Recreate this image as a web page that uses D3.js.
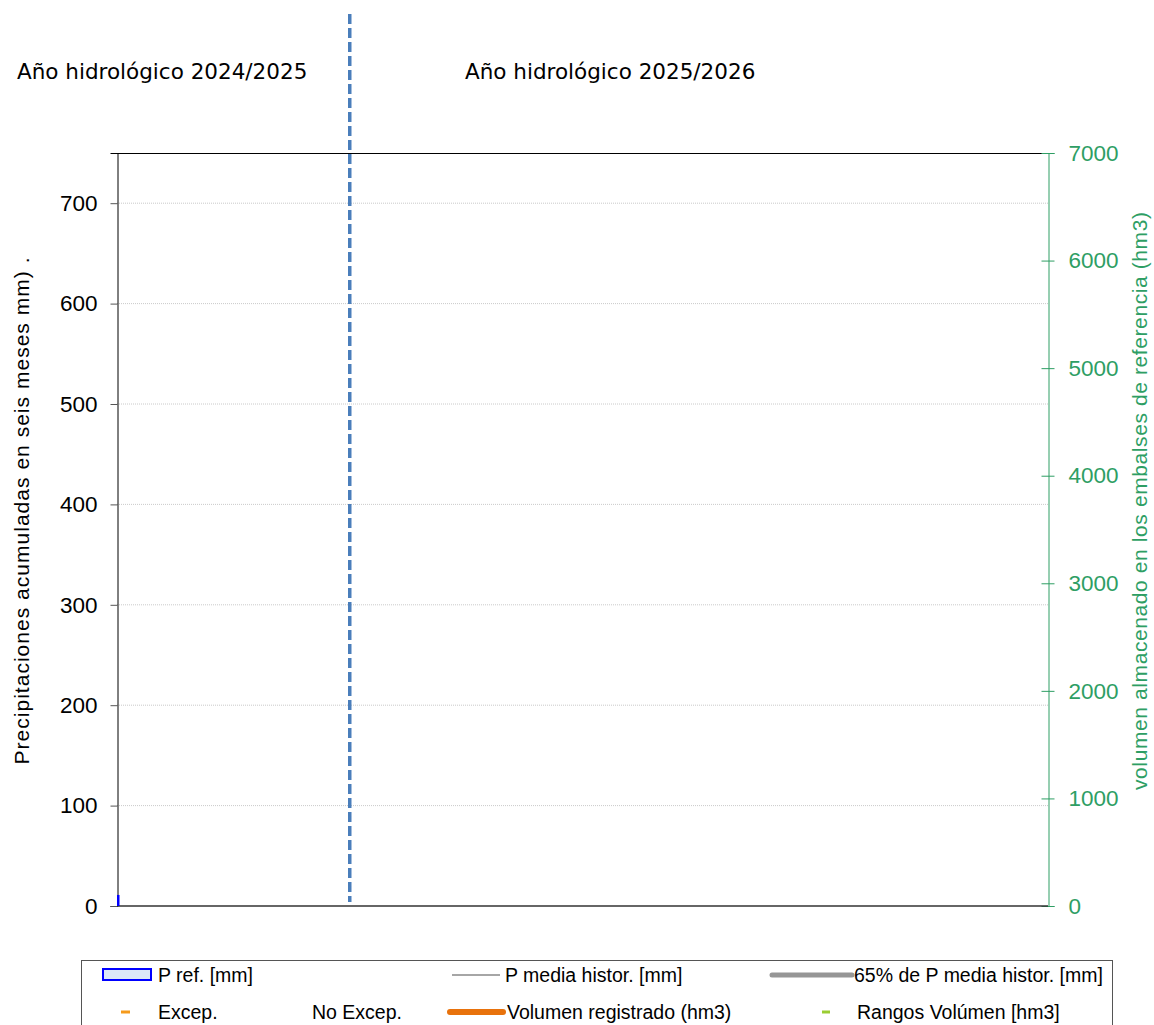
<!DOCTYPE html>
<html>
<head>
<meta charset="utf-8">
<script src="https://cdn.jsdelivr.net/npm/d3@7"></script>
<style>
  body { margin: 0; background: #fff; }
  svg { display: block; }
</style>
</head>
<body>
<script>
'use strict';

// data
const months = d3.range(0, 48);          // month index, 0 = Oct 2024
const pRefMonths = [0];
const pRefValues = [11];                 // mm
const yearStart = 12;                    // Oct 2025, start of 2025/2026
const yearLabels = ["Año hidrológico 2024/2025", "Año hidrológico 2025/2026"];
const leftTicks = [0, 100, 200, 300, 400, 500, 600, 700];
const rightTicks = [0, 1000, 2000, 3000, 4000, 5000, 6000, 7000];

const width = 1154, height = 1025;
const margin = { left: 117, right: 1048, top: 153, bottom: 906 };
const green = "#2e9e64";
const font = "Liberation Sans, Arial, sans-serif";

const svg = d3.select("body").append("svg")
    .attr("width", width)
    .attr("height", height);

const x = d3.scaleLinear().domain([0, months.length]).range([margin.left, margin.right]);
const y = d3.scaleLinear().domain([0, 750]).range([margin.bottom, margin.top]);
const y2 = d3.scaleLinear().domain([0, 7000]).range([margin.bottom, margin.top]);

// grid lines
svg.append("g").selectAll("line")
    .data(leftTicks.filter(d => d > 0))
    .enter().append("line")
    .attr("x1", margin.left).attr("x2", margin.right)
    .attr("y1", d => y(d)).attr("y2", d => y(d))
    .attr("stroke", "#bdbdbd")
    .attr("stroke-width", 0.8)
    .attr("stroke-dasharray", "1,1");

// frame top
svg.append("line")
    .attr("x1", margin.left).attr("x2", margin.right)
    .attr("y1", margin.top + 0.5).attr("y2", margin.top + 0.5)
    .attr("stroke", "#000").attr("stroke-width", 1);

// left axis
const yAxis = d3.axisLeft(y).tickValues(leftTicks).tickSize(7).tickPadding(13);
const gLeft = svg.append("g")
    .attr("transform", "translate(" + (margin.left + 0.5) + ",0)")
    .call(yAxis);
gLeft.select(".domain").attr("stroke", "#000");
gLeft.selectAll(".tick line").attr("stroke", "#555");
gLeft.selectAll("text")
    .attr("font-family", font)
    .attr("font-size", "22.5px")
    .attr("fill", "#000");

// right axis
const yAxis2 = d3.axisRight(y2).tickValues(rightTicks).tickFormat(d3.format("d"))
    .tickSize(6).tickPadding(14);
const gRight = svg.append("g")
    .attr("transform", "translate(" + (margin.right + 0.5) + ",0)")
    .call(yAxis2);
gRight.select(".domain").attr("stroke", green);
gRight.selectAll(".tick line").attr("stroke", green).attr("x1", -7);
gRight.selectAll("text")
    .attr("font-family", font)
    .attr("font-size", "22.5px")
    .attr("fill", green);

// x axis line at 0
svg.append("line")
    .attr("x1", margin.left).attr("x2", margin.right)
    .attr("y1", y(0)).attr("y2", y(0))
    .attr("stroke", "#333").attr("stroke-width", 1.5);

// P ref bars
svg.append("g").selectAll("rect")
    .data(pRefMonths.map((m, i) => ({ m: m, v: pRefValues[i] })))
    .enter().append("rect")
    .attr("x", d => x(d.m))
    .attr("y", d => y(d.v))
    .attr("width", 2.5)
    .attr("height", d => y(0) - y(d.v))
    .attr("fill", "#0000ff");

// hydrological year separator
svg.append("line")
    .attr("x1", x(yearStart)).attr("x2", x(yearStart))
    .attr("y1", 14).attr("y2", 902)
    .attr("stroke", "#4a7ebb")
    .attr("stroke-width", 3.5)
    .attr("stroke-dasharray", "10,4");

// year titles
svg.selectAll(".ytitle")
    .data(yearLabels)
    .enter().append("text")
    .attr("class", "ytitle")
    .attr("x", (d, i) => i === 0 ? 17 : 465)
    .attr("y", 79)
    .attr("font-family", "DejaVu Sans, Verdana, sans-serif")
    .attr("font-size", "21.5px")
    .attr("fill", "#000")
    .text(d => d);

// axis titles
svg.append("text")
    .attr("transform", "translate(29,511) rotate(-90)")
    .attr("text-anchor", "middle")
    .attr("font-family", font)
    .attr("font-size", "21px")
    .attr("textLength", 507)
    .attr("lengthAdjust", "spacing")
    .attr("fill", "#000")
    .text("Precipitaciones acumuladas en seis meses mm)  .");

svg.append("text")
    .attr("transform", "translate(1147,501) rotate(-90)")
    .attr("text-anchor", "middle")
    .attr("font-family", font)
    .attr("font-size", "21px")
    .attr("textLength", 578)
    .attr("lengthAdjust", "spacing")
    .attr("fill", green)
    .text("volumen almacenado en los embalses de referencia (hm3)");

// legend
const legend = svg.append("g");
legend.append("rect")
    .attr("x", 81.5).attr("y", 960.5)
    .attr("width", 1031).attr("height", 80)
    .attr("fill", "#fff")
    .attr("stroke", "#555")
    .attr("stroke-width", 1);

const legendItems = [
  { type: "rect", x: 103, y: 975, w: 48, text: "P ref. [mm]", tx: 158 },
  { type: "line", x: 452, y: 975, w: 48, color: "#a6a6a6", sw: 2, text: "P media histor. [mm]", tx: 505 },
  { type: "line", x: 772, y: 975, w: 80, color: "#969696", sw: 5, text: "65% de P media histor. [mm]", tx: 854 },
  { type: "line", x: 121, y: 1012, w: 9, color: "#f59a1b", sw: 3, text: "Excep.", tx: 158 },
  { type: "none", text: "No Excep.", tx: 312, y: 1012 },
  { type: "line", x: 450, y: 1012, w: 53, color: "#e8720c", sw: 6, text: "Volumen registrado (hm3)", tx: 507 },
  { type: "line", x: 822, y: 1012, w: 8, color: "#9acd32", sw: 3, text: "Rangos Volúmen [hm3]", tx: 857 }
];

legendItems.forEach(function(d) {
  if (d.type === "rect") {
    legend.append("rect")
      .attr("x", d.x).attr("y", d.y - 6)
      .attr("width", d.w).attr("height", 11)
      .attr("fill", "#dde9f8")
      .attr("stroke", "#0000ff")
      .attr("stroke-width", 2);
  } else if (d.type === "line") {
    legend.append("line")
      .attr("x1", d.x).attr("x2", d.x + d.w)
      .attr("y1", d.y).attr("y2", d.y)
      .attr("stroke", d.color)
      .attr("stroke-width", d.sw)
      .attr("stroke-linecap", d.sw > 3 ? "round" : "butt");
  }
  legend.append("text")
    .attr("x", d.tx).attr("y", d.y + 7)
    .attr("font-family", font)
    .attr("font-size", "19.5px")
    .attr("fill", "#000")
    .text(d.text);
});
</script>
</body>
</html>
